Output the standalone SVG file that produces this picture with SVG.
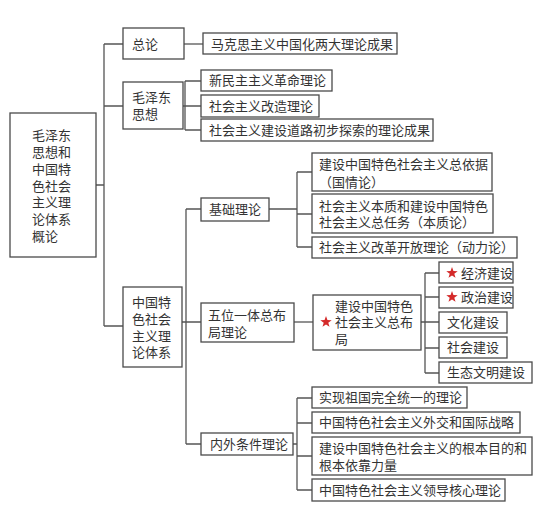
<svg xmlns="http://www.w3.org/2000/svg" width="549" height="518" viewBox="0 0 549 518">
<style>
.b{fill:#fff;stroke:#4a4a4a;stroke-width:1.3}
.t{font-family:"Noto Sans CJK SC","Noto Sans",sans-serif;font-size:13px;fill:#333}
.c{fill:none;stroke:#555;stroke-width:1.3}
.s{fill:#d42a2a}
</style>
<defs>
<path id="star" d="M0,-6 L1.41,-1.94 L5.71,-1.85 L2.28,0.74 L3.53,4.85 L0,2.4 L-3.53,4.85 L-2.28,0.74 L-5.71,-1.85 L-1.41,-1.94 Z"/>
</defs>
<rect width="549" height="518" fill="#fff"/>
<g id="connectors" class="c">
<path d="M96,185H104M104,44V326M104,44H123M104,106H123M104,326H123"/>
<path d="M184,44H203"/>
<path d="M183,106H185M185,81V130M185,81H201M185,106H201M185,130H201"/>
<path d="M182,322H186M186,209V444M186,209H201M186,322H201M186,444H201"/>
<path d="M269,209H297M297,172V247M297,172H312M297,214H312M297,247H312"/>
<path d="M294,322H313"/>
<path d="M421,322H425M425,273V373M425,273H439M425,297H439M425,322H439M425,348H439M425,373H439"/>
<path d="M293,444H297M297,398V490M297,398H312M297,423H312M297,456H312M297,490H312"/>
</g>
<g id="root"><rect class="b" x="10" y="113" width="86" height="144"/>
<text class="t" x="32"><tspan x="32" y="139.5">毛泽东</tspan><tspan x="32" y="156.5">思想和</tspan><tspan x="32" y="173.5">中国特</tspan><tspan x="32" y="190.5">色社会</tspan><tspan x="32" y="206.5">主义理</tspan><tspan x="32" y="223.5">论体系</tspan><tspan x="32" y="240.5">概论</tspan></text></g>
<g id="zonglun"><rect class="b" x="123" y="28" width="61" height="31"/><text class="t" x="132" y="48.5">总论</text></g>
<g id="maozedong"><rect class="b" x="123" y="82" width="60" height="47"/><text class="t"><tspan x="132" y="101.5">毛泽东</tspan><tspan x="132" y="118.5">思想</tspan></text></g>
<g id="zhongguotese"><rect class="b" x="123" y="287" width="59" height="80"/><text class="t"><tspan x="132" y="306.5">中国特</tspan><tspan x="132" y="323.5">色社会</tspan><tspan x="132" y="340.5">主义理</tspan><tspan x="132" y="356.5">论体系</tspan></text></g>
<g id="makesi"><rect class="b" x="203" y="33" width="194" height="21"/><text class="t" x="211" y="48.5">马克思主义中国化两大理论成果</text></g>
<g id="xinminzhu"><rect class="b" x="201" y="70" width="131" height="21"/><text class="t" x="209" y="85">新民主主义革命理论</text></g>
<g id="gaizao"><rect class="b" x="201" y="95" width="118" height="22"/><text class="t" x="209" y="110.5">社会主义改造理论</text></g>
<g id="tansuo"><rect class="b" x="201" y="119" width="232" height="22"/><text class="t" x="209" y="134.5">社会主义建设道路初步探索的理论成果</text></g>
<g id="jichu"><rect class="b" x="201" y="198" width="68" height="23"/><text class="t" x="209" y="214">基础理论</text></g>
<g id="wuwei"><rect class="b" x="201" y="303" width="93" height="39"/><text class="t"><tspan x="208" y="319.5">五位一体总布</tspan><tspan x="208" y="336.5">局理论</tspan></text></g>
<g id="neiwai"><rect class="b" x="201" y="433" width="92" height="22"/><text class="t" x="210" y="448.5">内外条件理论</text></g>
<g id="guoqing"><rect class="b" x="312" y="153" width="180" height="38"/><text class="t"><tspan x="319" y="168.5">建设中国特色社会主义总依据</tspan><tspan x="319" y="186.5">（国情论）</tspan></text></g>
<g id="benzhi"><rect class="b" x="312" y="194" width="181" height="39"/><text class="t"><tspan x="319" y="210.5">社会主义本质和建设中国特色</tspan><tspan x="319" y="226.5">社会主义总任务（本质论）</tspan></text></g>
<g id="dongli"><rect class="b" x="312" y="237" width="205" height="21"/><text class="t" x="319" y="252">社会主义改革开放理论（动力论）</text></g>
<g id="zongbuju"><rect class="b" x="313" y="295" width="108" height="55"/><use href="#star" class="s" x="326" y="322"/><text class="t"><tspan x="335" y="311">建设中国特色</tspan><tspan x="335" y="327">社会主义总布</tspan><tspan x="335" y="343.5">局</tspan></text></g>
<g id="jingji"><rect class="b" x="439" y="262" width="74" height="21"/><use href="#star" class="s" x="452" y="273"/><text class="t" x="461" y="277.5">经济建设</text></g>
<g id="zhengzhi"><rect class="b" x="439" y="287" width="74" height="21"/><use href="#star" class="s" x="452" y="297"/><text class="t" x="461" y="302">政治建设</text></g>
<g id="wenhua"><rect class="b" x="439" y="312" width="68" height="21"/><text class="t" x="447" y="327">文化建设</text></g>
<g id="shehui"><rect class="b" x="439" y="337" width="68" height="21"/><text class="t" x="447" y="352">社会建设</text></g>
<g id="shengtai"><rect class="b" x="439" y="362" width="93" height="21"/><text class="t" x="447" y="377">生态文明建设</text></g>
<g id="tongyi"><rect class="b" x="312" y="387" width="155" height="21"/><text class="t" x="319" y="402">实现祖国完全统一的理论</text></g>
<g id="waijiao"><rect class="b" x="312" y="412" width="208" height="21"/><text class="t" x="319" y="427">中国特色社会主义外交和国际战略</text></g>
<g id="genben"><rect class="b" x="312" y="437" width="220" height="38"/><text class="t"><tspan x="319" y="452.5">建设中国特色社会主义的根本目的和</tspan><tspan x="319" y="469.5">根本依靠力量</tspan></text></g>
<g id="lingdao"><rect class="b" x="312" y="479" width="193" height="22"/><text class="t" x="319" y="494.5">中国特色社会主义领导核心理论</text></g>
</svg>
